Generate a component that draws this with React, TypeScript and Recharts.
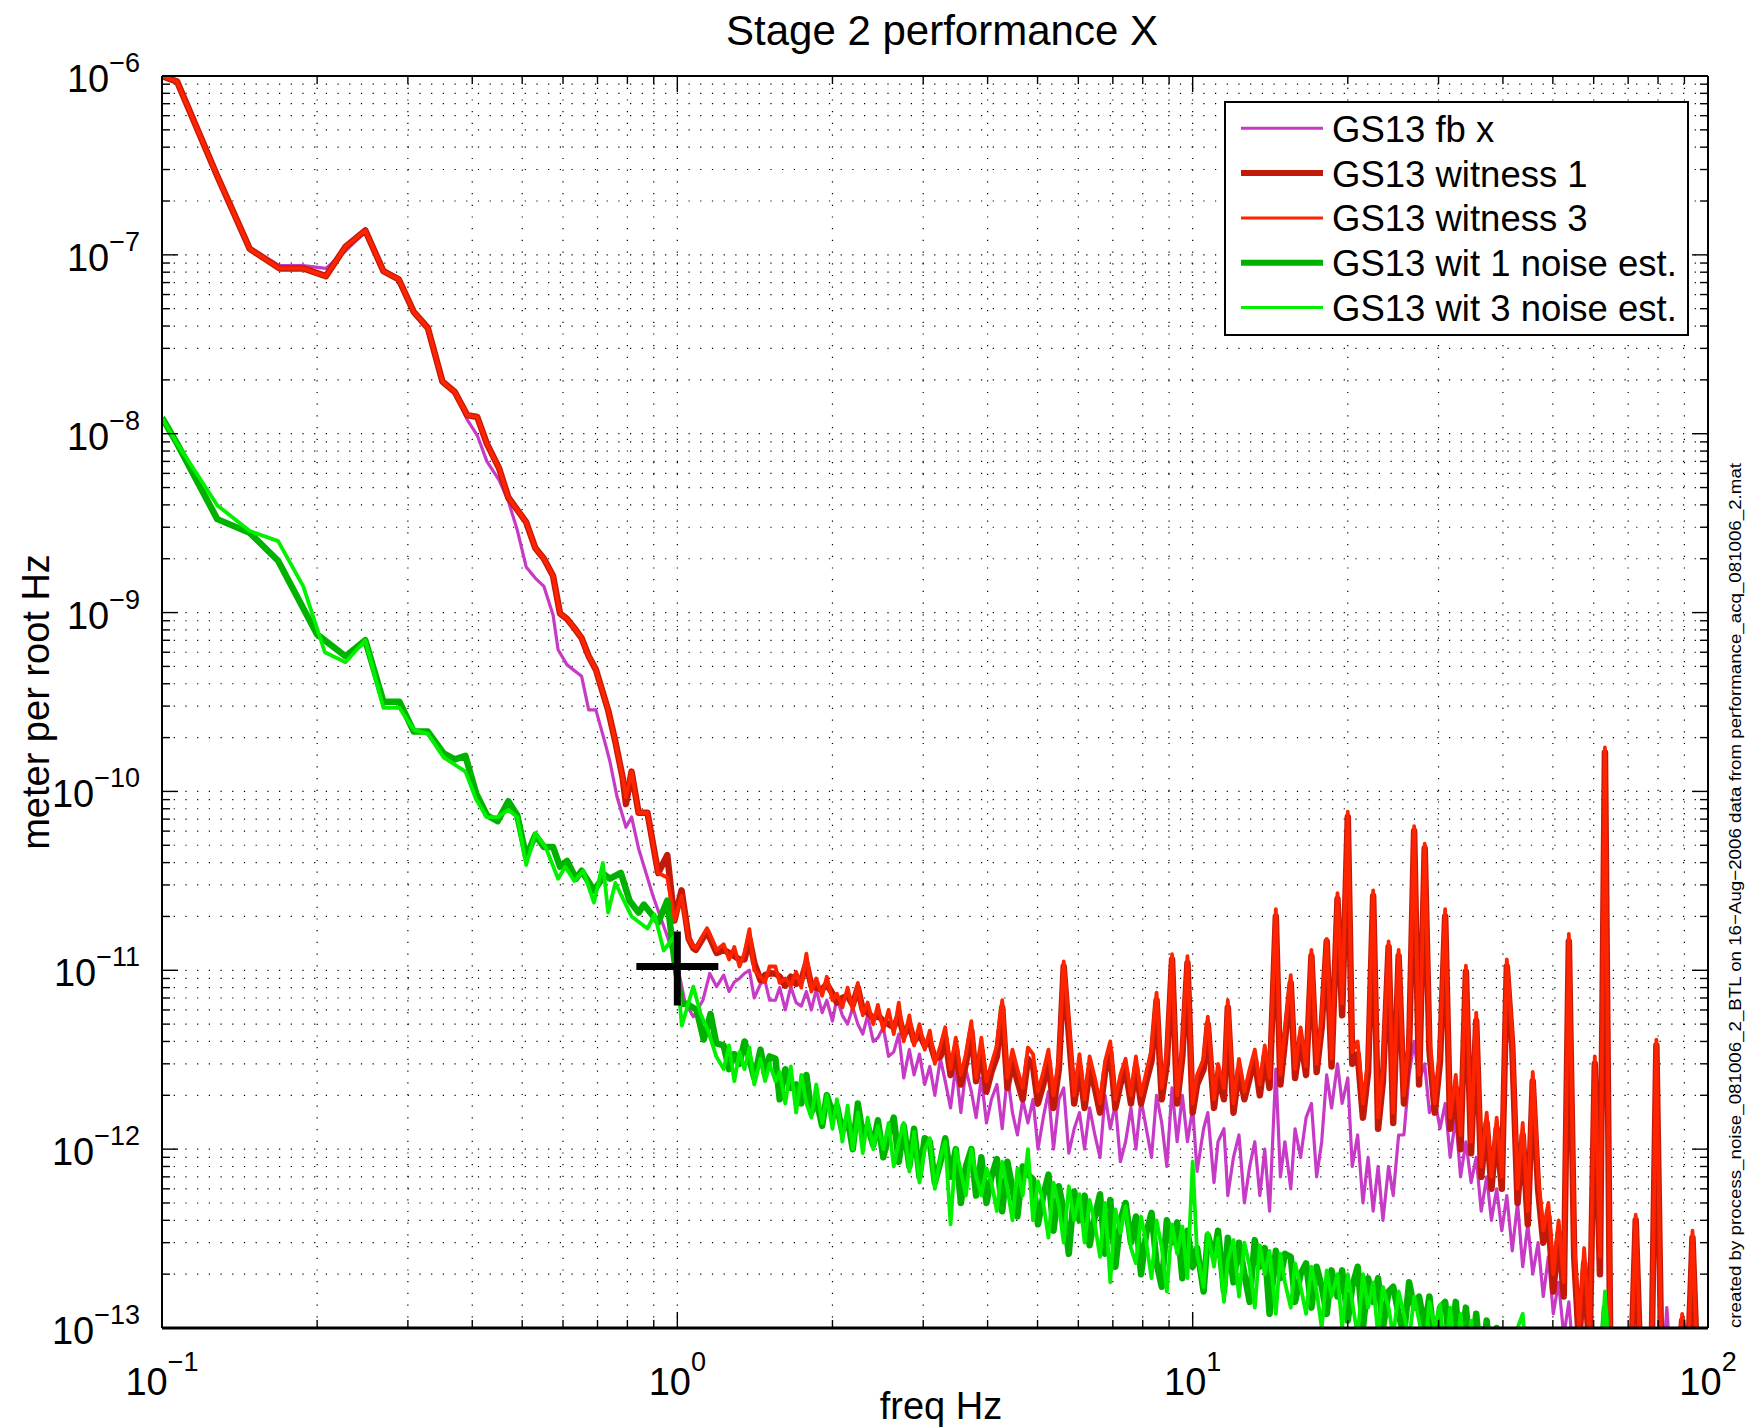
import React from 'react';
import {
  ComposedChart,
  Line,
  XAxis,
  YAxis,
  CartesianGrid,
  ReferenceDot,
} from 'recharts';

type Pair = [number, number];

// ---- spectra below 1.2 Hz: [frequency Hz, amplitude m/rtHz] ----
const FB_X_LOW: Pair[] = [
  [0.1, 1.0e-6], [0.107, 9.5e-7], [0.128, 2.8e-7], [0.148, 1.1e-7], [0.169, 8.7e-8],
  [0.188, 8.7e-8], [0.208, 8.4e-8], [0.227, 1.05e-7], [0.248, 1.35e-7], [0.269, 8.1e-8],
  [0.288, 7.3e-8], [0.308, 4.9e-8], [0.328, 3.9e-8], [0.35, 1.96e-8], [0.37, 1.71e-8],
  [0.391, 1.2e-8], [0.409, 9.8e-9], [0.427, 7.0e-9], [0.451, 5.5e-9], [0.47, 4.2e-9],
  [0.489, 2.9e-9], [0.509, 1.8e-9], [0.53, 1.56e-9], [0.551, 1.4e-9], [0.574, 9.7e-10],
  [0.587, 6.2e-10], [0.611, 5.1e-10], [0.652, 4.4e-10], [0.673, 2.86e-10], [0.695, 2.86e-10],
  [0.723, 1.9e-10], [0.74, 1.47e-10], [0.764, 9.3e-11], [0.795, 6.3e-11], [0.815, 7.2e-11],
  [0.841, 4.8e-11], [0.897, 2.6e-11], [0.956, 1.55e-11], [1.003, 1.03e-11], [1.035, 6.6e-12],
  [1.074, 5.5e-12], [1.121, 6.8e-12], [1.156, 9.6e-12], [1.192, 8.1e-12],
];

const WIT1_LOW: Pair[] = [
  [0.1, 1.0e-6], [0.107, 9.3e-7], [0.128, 2.76e-7], [0.148, 1.08e-7], [0.169, 8.4e-8],
  [0.188, 8.4e-8], [0.208, 7.6e-8], [0.227, 1.11e-7], [0.248, 1.37e-7], [0.269, 8.1e-8],
  [0.288, 7.3e-8], [0.308, 4.8e-8], [0.328, 3.9e-8], [0.35, 1.96e-8], [0.37, 1.71e-8],
  [0.391, 1.27e-8], [0.409, 1.24e-8], [0.427, 8.8e-9], [0.451, 6.4e-9], [0.47, 4.4e-9],
  [0.509, 3.2e-9], [0.53, 2.3e-9], [0.551, 2.0e-9], [0.574, 1.6e-9], [0.592, 9.9e-10],
  [0.611, 9.2e-10], [0.631, 8.2e-10], [0.652, 7.2e-10], [0.673, 5.7e-10], [0.695, 4.8e-10],
  [0.734, 2.85e-10], [0.758, 1.9e-10], [0.783, 1.2e-10], [0.795, 8.5e-11], [0.815, 1.29e-10],
  [0.841, 7.6e-11], [0.875, 7.6e-11], [0.918, 3.5e-11], [0.956, 4.4e-11], [0.987, 1.9e-11],
  [1.019, 2.8e-11], [1.052, 1.5e-11], [1.074, 1.33e-11], [1.086, 1.3e-11], [1.142, 1.65e-11],
  [1.192, 1.25e-11],
];

const WIT3_LOW: Pair[] = [
  [0.1, 1.0e-6], [0.107, 9.3e-7], [0.128, 2.76e-7], [0.148, 1.08e-7], [0.169, 8.4e-8],
  [0.188, 8.4e-8], [0.208, 7.6e-8], [0.227, 1.11e-7], [0.248, 1.37e-7], [0.269, 8.1e-8],
  [0.288, 7.3e-8], [0.308, 4.8e-8], [0.328, 3.9e-8], [0.35, 1.96e-8], [0.37, 1.71e-8],
  [0.391, 1.27e-8], [0.409, 1.24e-8], [0.427, 8.8e-9], [0.451, 6.4e-9], [0.47, 4.4e-9],
  [0.509, 3.2e-9], [0.53, 2.3e-9], [0.551, 2.0e-9], [0.574, 1.6e-9], [0.592, 9.9e-10],
  [0.611, 9.2e-10], [0.631, 8.2e-10], [0.652, 7.2e-10], [0.673, 5.7e-10], [0.695, 4.8e-10],
  [0.734, 2.85e-10], [0.758, 1.9e-10], [0.783, 1.2e-10], [0.795, 9.3e-11], [0.815, 1.29e-10],
  [0.841, 7.6e-11], [0.875, 7.6e-11], [0.918, 3.5e-11], [0.956, 3.3e-11], [0.987, 1.9e-11],
  [1.019, 2.6e-11], [1.052, 1.5e-11], [1.074, 1.36e-11], [1.086, 1.33e-11], [1.142, 1.72e-11],
  [1.192, 1.3e-11],
];

const NOISE1_LOW: Pair[] = [
  [0.1, 1.23e-8], [0.107, 8.8e-9], [0.128, 3.33e-9], [0.148, 2.79e-9], [0.168, 1.95e-9],
  [0.2, 7.55e-10], [0.227, 5.7e-10], [0.248, 7.0e-10], [0.269, 3.17e-10], [0.289, 3.17e-10],
  [0.308, 2.16e-10], [0.328, 2.16e-10], [0.352, 1.63e-10], [0.37, 1.51e-10], [0.388, 1.58e-10],
  [0.407, 9.75e-11], [0.427, 7.36e-11], [0.448, 6.82e-11], [0.47, 8.81e-11], [0.489, 7.36e-11],
  [0.509, 4.3e-11], [0.53, 5.71e-11], [0.551, 4.89e-11], [0.574, 4.89e-11], [0.592, 3.79e-11],
  [0.611, 4.09e-11], [0.636, 3.25e-11], [0.652, 3.6e-11], [0.689, 2.79e-11], [0.723, 3.42e-11],
  [0.74, 3.25e-11], [0.777, 3.5e-11], [0.808, 2.45e-11], [0.841, 2.1e-11], [0.861, 2.33e-11],
  [0.918, 1.85e-11], [0.956, 2.45e-11], [0.987, 1.14e-11], [1.019, 6.5e-12], [1.043, 6.5e-12],
  [1.09, 6.0e-12], [1.125, 4.1e-12], [1.16, 5.7e-12], [1.19, 3.9e-12],
];

const NOISE3_LOW: Pair[] = [
  [0.1, 1.23e-8], [0.107, 8.8e-9], [0.128, 3.98e-9], [0.148, 2.86e-9], [0.168, 2.51e-9],
  [0.188, 1.4e-9], [0.207, 6.0e-10], [0.227, 5.28e-10], [0.248, 7.0e-10], [0.269, 2.93e-10],
  [0.289, 2.93e-10], [0.308, 2.21e-10], [0.328, 2.1e-10], [0.352, 1.55e-10], [0.388, 1.29e-10],
  [0.407, 9.0e-11], [0.427, 7.18e-11], [0.448, 7.18e-11], [0.47, 7.9e-11], [0.489, 7.18e-11],
  [0.509, 3.88e-11], [0.53, 5.85e-11], [0.555, 4.89e-11], [0.587, 3.25e-11], [0.606, 3.79e-11],
  [0.631, 3.16e-11], [0.657, 3.6e-11], [0.689, 2.39e-11], [0.717, 3.98e-11], [0.734, 2.1e-11],
  [0.758, 3.08e-11], [0.815, 2.0e-11], [0.875, 1.71e-11], [0.903, 2.05e-11], [0.941, 1.29e-11],
  [0.987, 1.55e-11], [1.02, 4.9e-12], [1.074, 8.1e-12], [1.11, 5.7e-12], [1.15, 4.5e-12],
  [1.19, 3.3e-12],
];

// ---- shared frequency bins from 1.23 Hz to 100 Hz ----
const HI_FREQ = [
  1.23, 1.26, 1.29, 1.32, 1.35, 1.38, 1.41, 1.45, 1.48, 1.51,
  1.55, 1.58, 1.62, 1.66, 1.70, 1.74, 1.78, 1.82, 1.86, 1.91,
  1.95, 2.00, 2.04, 2.09, 2.14, 2.19, 2.24, 2.29, 2.34, 2.40,
  2.45, 2.51, 2.57, 2.63, 2.69, 2.75, 2.82, 2.88, 2.95, 3.02,
  3.09, 3.16, 3.24, 3.31, 3.39, 3.47, 3.55, 3.63, 3.72, 3.80,
  3.89, 3.98, 4.07, 4.17, 4.27, 4.37, 4.47, 4.57, 4.68, 4.79,
  4.90, 5.01, 5.13, 5.25, 5.37, 5.50, 5.62, 5.75, 5.89, 6.03,
  6.17, 6.31, 6.46, 6.61, 6.76, 6.92, 7.08, 7.24, 7.41, 7.59,
  7.76, 7.94, 8.13, 8.32, 8.51, 8.71, 8.91, 9.12, 9.33, 9.55,
  9.77, 10.0, 10.2, 10.5, 10.7, 11.0, 11.2, 11.5, 11.7, 12.0,
  12.3, 12.6, 12.9, 13.2, 13.5, 13.8, 14.1, 14.5, 14.8, 15.1,
  15.5, 15.8, 16.2, 16.6, 17.0, 17.4, 17.8, 18.2, 18.6, 19.1,
  19.5, 20.0, 20.4, 20.9, 21.4, 21.9, 22.4, 22.9, 23.4, 24.0,
  24.5, 25.1, 25.7, 26.3, 26.9, 27.5, 28.2, 28.8, 29.5, 30.2,
  30.9, 31.6, 32.4, 33.1, 33.9, 34.7, 35.5, 36.3, 37.2, 38.0,
  38.9, 39.8, 40.7, 41.7, 42.7, 43.7, 44.7, 45.7, 46.8, 47.9,
  49.0, 50.1, 51.3, 52.5, 53.7, 55.0, 56.2, 57.5, 58.9, 60.3,
  61.7, 63.1, 64.6, 66.1, 67.6, 69.2, 70.8, 72.4, 74.1, 75.9,
  77.6, 79.4, 81.3, 83.2, 85.1, 87.1, 89.1, 91.2, 93.3, 95.5,
  97.7, 100,
];

// amplitudes on HI_FREQ, in pm/rtHz (0.05 sits below the plotted range)
const FB_X_HI = [
  9.4, 7.6, 8.6, 9.0, 9.6, 10, 7.0, 8.4, 8.7, 6.8,
  6.8, 8.0, 6.0, 8.1, 6.6, 6.3, 7.6, 6.0, 7.8, 5.8,
  6.8, 5.2, 7.0, 5.6, 5.0, 6.2, 5.0, 4.4, 5.6, 4.0,
  4.2, 4.8, 3.3, 3.5, 4.4, 2.5, 3.6, 2.6, 3.4, 2.3,
  2.9, 2.0, 3.2, 2.4, 1.7, 2.9, 1.6, 2.8, 2.1, 1.5,
  2.5, 1.4, 1.9, 2.3, 1.3, 2.6, 1.6, 1.2, 1.9, 1.4,
  1.9, 1.0, 1.5, 2.1, 1.0, 1.9, 2.2, 0.95, 1.3, 1.6,
  1.0, 1.7, 1.2, 0.9, 2.0, 1.3, 1.8, 0.85, 1.1, 1.7,
  1.0, 1.9, 1.3, 0.9, 2.0, 1.4, 0.8, 2.2, 1.1, 2.0,
  1.1, 1.7, 0.75, 1.3, 1.6, 0.65, 1.1, 1.3, 0.55, 0.9,
  1.2, 0.5, 0.8, 1.1, 0.55, 1.0, 0.45, 2.8, 0.7, 1.1,
  0.6, 1.3, 0.9, 1.5, 1.8, 0.7, 1.1, 2.6, 1.7, 3.0,
  1.8, 2.5, 0.8, 1.2, 0.5, 0.9, 0.45, 0.8, 0.4, 0.8,
  0.55, 1.2, 1.2, 2.6, 4.0, 2.4, 3.0, 1.6, 1.9, 1.3,
  1.8, 0.9, 1.5, 0.7, 1.1, 0.65, 0.9, 0.45, 0.7, 0.4,
  0.6, 0.35, 0.55, 0.27, 0.5, 0.22, 0.38, 0.2, 0.3, 0.15,
  0.25, 0.12, 0.18, 0.09, 0.14, 0.06, 0.05, 0.05, 0.05, 0.05,
  0.05, 0.05, 0.05, 0.05, 0.05, 0.05, 0.05, 0.05, 0.05, 0.05,
  0.05, 0.05, 0.05, 0.13, 0.05, 0.05, 0.11, 0.05, 0.05, 0.05,
  0.05, 0.05,
];

const WIT1_HI = [
  13, 12.5, 12, 11.5, 11.5, 15, 11, 8.8, 9.4, 9.6,
  9.6, 9.2, 8.2, 9.2, 8.4, 8.8, 11, 8.2, 8.0, 7.8,
  8.4, 7.4, 6.6, 7.0, 7.2, 6.4, 8.0, 6.0, 5.8, 5.4,
  5.6, 5.2, 5.0, 4.8, 5.6, 4.3, 5.0, 4.0, 4.4, 3.8,
  4.0, 3.2, 3.3, 4.2, 2.6, 3.7, 2.3, 3.0, 4.6, 2.4,
  3.6, 2.1, 2.7, 3.3, 6.2, 2.2, 3.1, 2.4, 1.9, 3.2,
  2.9, 1.8, 2.3, 3.1, 1.7, 2.8, 10.5, 4.4, 1.8, 2.9,
  1.7, 2.8, 2.2, 1.6, 2.7, 3.5, 1.7, 2.3, 2.8, 1.8,
  2.9, 1.8, 2.4, 3.1, 6.8, 1.9, 3.0, 11.5, 1.8, 3.3,
  11, 1.6, 2.3, 2.8, 5.0, 1.7, 2.6, 1.9, 6.2, 1.6,
  2.8, 1.9, 2.5, 3.2, 2.0, 3.3, 2.2, 20, 2.3, 4.0,
  8.5, 2.5, 4.2, 2.6, 12, 2.7, 4.8, 14.5, 2.9, 25,
  5.6, 72, 3.0, 3.4, 1.5, 2.7, 26, 1.3, 2.4, 13.5,
  1.4, 12, 1.8, 3.6, 60, 2.3, 48, 3.6, 1.6, 3.1,
  20, 1.3, 2.2, 1.0, 9.8, 0.95, 5.2, 0.7, 1.4, 0.6,
  1.3, 0.6, 10.5, 3.8, 0.5, 1.2, 0.38, 2.4, 0.6, 0.3,
  0.42, 0.16, 0.34, 0.15, 14.5, 0.25, 0.08, 0.23, 0.07, 3.0,
  0.2, 165, 0.08, 0.06, 0.05, 0.05, 0.05, 0.4, 0.05, 0.05,
  0.05, 3.8, 0.05, 0.05, 0.05, 0.05, 0.11, 0.05, 0.32, 0.05,
  0.05, 0.05,
];

const WIT3_HI = [
  14, 11.5, 13.5, 10.5, 12.5, 17, 10, 9.2, 8.6, 10.5,
  10.5, 8.5, 9.0, 8.2, 9.8, 8.0, 12.4, 7.6, 9.0, 7.2,
  9.2, 6.8, 7.4, 6.2, 8.0, 6.0, 8.5, 5.6, 6.6, 5.0,
  6.4, 4.6, 6.0, 4.4, 6.6, 4.0, 5.6, 3.8, 5.0, 3.6,
  4.6, 3.0, 3.8, 4.8, 2.8, 4.2, 2.6, 3.4, 5.2, 2.5,
  4.2, 2.4, 3.0, 3.8, 6.8, 2.5, 3.6, 2.8, 2.2, 3.7,
  3.4, 2.1, 2.7, 3.6, 2.0, 3.2, 11.2, 5.0, 2.0, 3.4,
  1.9, 3.3, 2.5, 1.8, 3.1, 4.0, 1.9, 2.6, 3.2, 2.0,
  3.3, 2.0, 2.7, 3.6, 7.5, 2.2, 3.5, 12.3, 2.0, 3.8,
  12, 1.8, 2.6, 3.2, 5.5, 1.9, 3.0, 2.2, 6.8, 1.8,
  3.2, 2.1, 2.8, 3.6, 2.3, 3.8, 2.5, 22, 2.6, 4.6,
  9.4, 2.8, 4.8, 2.9, 13, 3.0, 5.5, 15, 3.2, 27,
  6.5, 77, 3.5, 4.0, 1.8, 3.2, 28, 1.5, 2.8, 14.5,
  1.6, 13, 2.0, 4.2, 64, 2.6, 51, 4.2, 1.8, 3.6,
  22, 1.5, 2.6, 1.2, 10.6, 1.1, 5.8, 0.8, 1.6, 0.7,
  1.5, 0.7, 11.5, 4.2, 0.6, 1.4, 0.45, 2.7, 0.7, 0.35,
  0.5, 0.2, 0.4, 0.18, 16, 0.3, 0.1, 0.28, 0.09, 3.3,
  0.25, 176, 0.1, 0.07, 0.05, 0.05, 0.05, 0.43, 0.05, 0.05,
  0.05, 4.1, 0.05, 0.05, 0.05, 0.05, 0.12, 0.05, 0.35, 0.05,
  0.05, 0.05,
];

const NOISE1_HI = [
  3.8, 2.8, 3.4, 3.0, 4.0, 3.2, 2.5, 3.6, 2.6, 3.3,
  3.2, 1.9, 2.8, 2.2, 2.3, 1.8, 2.6, 1.6, 1.9, 1.35,
  2.0, 1.6, 1.75, 1.25, 1.5, 1.0, 1.8, 1.2, 1.35, 1.05,
  1.45, 0.9, 1.2, 1.5, 0.85, 1.35, 0.8, 1.3, 0.7, 1.15,
  1.1, 0.65, 0.85, 1.15, 0.7, 1.0, 0.5, 0.8, 1.0, 0.55,
  0.9, 0.5, 0.7, 0.88, 0.45, 0.85, 0.6, 0.42, 0.8, 0.72,
  0.68, 0.38, 0.55, 0.72, 0.35, 0.62, 0.45, 0.26, 0.58, 0.4,
  0.55, 0.29, 0.42, 0.56, 0.26, 0.52, 0.22, 0.4, 0.5, 0.3,
  0.42, 0.2, 0.34, 0.44, 0.23, 0.17, 0.4, 0.3, 0.39, 0.19,
  0.35, 0.22, 0.28, 0.16, 0.33, 0.25, 0.35, 0.16, 0.32, 0.18,
  0.3, 0.2, 0.14, 0.31, 0.22, 0.28, 0.12, 0.27, 0.19, 0.26,
  0.25, 0.14, 0.2, 0.23, 0.13, 0.22, 0.17, 0.12, 0.21, 0.15,
  0.21, 0.11, 0.17, 0.22, 0.1, 0.19, 0.14, 0.19, 0.1, 0.16,
  0.17, 0.12, 0.09, 0.18, 0.13, 0.15, 0.1, 0.15, 0.08, 0.13,
  0.14, 0.075, 0.14, 0.07, 0.13, 0.065, 0.12, 0.06, 0.11, 0.06,
  0.1, 0.06, 0.09, 0.055, 0.085, 0.05, 0.08, 0.05, 0.06, 0.05,
  0.05, 0.05, 0.05, 0.05, 0.05, 0.05, 0.05, 0.05, 0.05, 0.05,
  0.05, 0.13, 0.05, 0.05, 0.05, 0.05, 0.05, 0.05, 0.05, 0.05,
  0.05, 0.05, 0.05, 0.05, 0.05, 0.05, 0.05, 0.05, 0.05, 0.05,
  0.05, 0.05,
];

const NOISE3_HI = [
  2.8, 3.8, 2.4, 3.5, 2.8, 3.7, 2.3, 3.2, 2.4, 3.0,
  2.4, 2.7, 1.8, 2.9, 1.6, 2.6, 1.8, 1.5, 2.3, 1.4,
  2.0, 1.3, 1.9, 1.1, 1.75, 1.0, 1.6, 0.95, 1.5, 1.0,
  1.35, 1.0, 1.4, 0.8, 1.1, 1.4, 0.75, 1.25, 0.65, 1.0,
  1.15, 0.6, 0.9, 1.1, 0.38, 1.0, 0.75, 0.55, 1.0, 0.7,
  0.55, 0.78, 0.65, 0.45, 0.85, 0.6, 0.4, 0.78, 0.55, 1.0,
  0.4, 0.66, 0.5, 0.32, 0.65, 0.48, 0.3, 0.62, 0.4, 0.56,
  0.3, 0.52, 0.38, 0.25, 0.5, 0.18, 0.46, 0.34, 0.48, 0.28,
  0.23, 0.42, 0.3, 0.19, 0.4, 0.28, 0.16, 0.38, 0.26, 0.37,
  0.19, 0.85, 0.26, 0.17, 0.34, 0.22, 0.32, 0.14, 0.24, 0.31,
  0.15, 0.3, 0.22, 0.13, 0.29, 0.2, 0.27, 0.12, 0.26, 0.18,
  0.13, 0.23, 0.17, 0.12, 0.22, 0.16, 0.1, 0.21, 0.15, 0.2,
  0.1, 0.2, 0.14, 0.09, 0.2, 0.13, 0.18, 0.09, 0.17, 0.13,
  0.09, 0.16, 0.12, 0.085, 0.15, 0.11, 0.075, 0.14, 0.1, 0.135,
  0.07, 0.13, 0.065, 0.12, 0.06, 0.11, 0.06, 0.1, 0.055, 0.095,
  0.055, 0.09, 0.05, 0.085, 0.1, 0.12, 0.05, 0.065, 0.05, 0.05,
  0.05, 0.05, 0.05, 0.05, 0.05, 0.05, 0.05, 0.05, 0.05, 0.05,
  0.05, 0.16, 0.05, 0.05, 0.05, 0.05, 0.05, 0.05, 0.05, 0.05,
  0.05, 0.05, 0.05, 0.05, 0.05, 0.05, 0.05, 0.05, 0.05, 0.05,
  0.05, 0.05,
];

// operating-point marker
const CROSS_AT = { f: 1.0, v: 1.05e-11 };

const X_DECADES = [0.1, 1, 10, 100];
const Y_DECADES = [1e-13, 1e-12, 1e-11, 1e-10, 1e-9, 1e-8, 1e-7, 1e-6];
const MINOR_STEPS = [1, 2, 3, 4, 5, 6, 7, 8, 9];

const TITLE = 'Stage 2 performance X';
const X_LABEL = 'freq Hz';
const Y_LABEL = 'meter per root Hz';
const SIDE_NOTE =
  'created by process_noise_081006_2_BTL on 16\u2212Aug\u22122006 data from performance_acq_081006_2.mat';

const PM = 1e-12;
const FONT = '"Liberation Sans", Arial, Helvetica, sans-serif';

const buildRows = (low: Pair[], hi: number[]) => [
  ...low.map(([f, v]) => ({ f, v })),
  ...HI_FREQ.map((f, i) => ({ f, v: hi[i] * PM })),
];

const SERIES = [
  { key: 'fb', name: 'GS13 fb x', color: '#c63ac6', width: 3.2, legendWidth: 3, rows: buildRows(FB_X_LOW, FB_X_HI) },
  { key: 'w1', name: 'GS13 witness 1', color: '#c21a0a', width: 6.5, legendWidth: 6, rows: buildRows(WIT1_LOW, WIT1_HI) },
  { key: 'w3', name: 'GS13 witness 3', color: '#ff2400', width: 3.8, legendWidth: 3, rows: buildRows(WIT3_LOW, WIT3_HI) },
  { key: 'n1', name: 'GS13 wit 1 noise est.', color: '#00b200', width: 6.5, legendWidth: 6, rows: buildRows(NOISE1_LOW, NOISE1_HI) },
  { key: 'n3', name: 'GS13 wit 3 noise est.', color: '#00f000', width: 3.8, legendWidth: 3, rows: buildRows(NOISE3_LOW, NOISE3_HI) },
];

const logTicks = (decades: number[]) =>
  decades
    .slice(0, -1)
    .flatMap((d) => MINOR_STEPS.map((m) => Number((d * m).toPrecision(3))))
    .concat(decades[decades.length - 1]);

const X_TICKS = logTicks(X_DECADES);
const Y_TICKS = logTicks(Y_DECADES);

const exponentOf = (v: number) => Math.round(Math.log10(v));
const isDecade = (v: number) => Math.abs(Math.log10(v) - exponentOf(v)) < 1e-6;
const expText = (n: number) => (n < 0 ? '\u2212' + Math.abs(n) : String(n));

const MAJOR_LEN = 16;
const MINOR_LEN = 8;

function BottomTick({ x, y, payload }: any) {
  const v = payload.value;
  const major = isDecade(v);
  return (
    <g>
      <line x1={x} x2={x} y1={y} y2={y - (major ? MAJOR_LEN : MINOR_LEN)} stroke="#000" strokeWidth={1.4} />
      {major && (
        <text x={x} y={y + 67} textAnchor="middle" fontFamily={FONT} fontSize={38} fill="#000">
          10
          <tspan dy={-24} fontSize={27}>{expText(exponentOf(v))}</tspan>
        </text>
      )}
    </g>
  );
}

function TopTick({ x, y, payload }: any) {
  const len = isDecade(payload.value) ? MAJOR_LEN : MINOR_LEN;
  return <line x1={x} x2={x} y1={y} y2={y + len} stroke="#000" strokeWidth={1.4} />;
}

function LeftTick({ x, y, payload }: any) {
  const v = payload.value;
  const major = isDecade(v);
  return (
    <g>
      <line x1={x} x2={x + (major ? MAJOR_LEN : MINOR_LEN)} y1={y} y2={y} stroke="#000" strokeWidth={1.4} />
      {major && (
        <text x={x - 22} y={y + 16} textAnchor="end" fontFamily={FONT} fontSize={38} fill="#000">
          10
          <tspan dy={-20} fontSize={27}>{expText(exponentOf(v))}</tspan>
        </text>
      )}
    </g>
  );
}

function RightTick({ x, y, payload }: any) {
  const len = isDecade(payload.value) ? MAJOR_LEN : MINOR_LEN;
  return <line x1={x} x2={x - len} y1={y} y2={y} stroke="#000" strokeWidth={1.4} />;
}

function CrossMark({ cx, cy }: any) {
  if (cx == null || cy == null) return null;
  return (
    <g>
      <line x1={cx - 41} x2={cx + 41} y1={cy} y2={cy} stroke="#000" strokeWidth={7} />
      <line x1={cx} x2={cx} y1={cy - 35} y2={cy + 39} stroke="#000" strokeWidth={7} />
    </g>
  );
}

function Overlay() {
  const box = { x: 1225, y: 102, w: 463, h: 233 };
  return (
    <svg
      width={1750}
      height={1428}
      style={{ position: 'absolute', left: 0, top: 0, pointerEvents: 'none' }}
    >
      <text x={942} y={45} textAnchor="middle" fontFamily={FONT} fontSize={42} fill="#000">
        {TITLE}
      </text>
      <text x={941} y={1419} textAnchor="middle" fontFamily={FONT} fontSize={38} fill="#000">
        {X_LABEL}
      </text>
      <text
        x={0}
        y={0}
        transform="translate(49,702) rotate(-90)"
        textAnchor="middle"
        fontFamily={FONT}
        fontSize={38}
        fill="#000"
      >
        {Y_LABEL}
      </text>
      <text
        x={0}
        y={0}
        transform="translate(1741,1328) rotate(-90)"
        textAnchor="start"
        fontFamily={FONT}
        fontSize={17}
        textLength={865}
        lengthAdjust="spacingAndGlyphs"
        fill="#000"
      >
        {SIDE_NOTE}
      </text>

      <rect x={box.x} y={box.y} width={box.w} height={box.h} fill="#fff" stroke="#000" strokeWidth={2} />
      {SERIES.map((s, i) => {
        const cy = 128.3 + i * 44.8;
        return (
          <g key={s.key}>
            <line x1={1241} x2={1323} y1={cy} y2={cy} stroke={s.color} strokeWidth={s.legendWidth} />
            <text x={1332} y={cy + 13.5} fontFamily={FONT} fontSize={36.5} fill="#000">
              {s.name}
            </text>
          </g>
        );
      })}
    </svg>
  );
}

export default function App() {
  return (
    <div style={{ position: 'absolute', left: 0, top: 0, width: 1750, height: 1428, background: '#fff' }}>
      <ComposedChart width={1750} height={1428} margin={{ top: 75, right: 41, bottom: 0, left: 0 }}>
        <CartesianGrid stroke="#000" strokeWidth={1.2} strokeDasharray="1.2 10.5" />
        <XAxis
          dataKey="f"
          type="number"
          scale="log"
          domain={[0.1, 100]}
          allowDataOverflow
          ticks={X_TICKS}
          interval={0}
          height={100}
          tickSize={0}
          tickMargin={0}
          tickLine={false}
          axisLine={{ stroke: '#000', strokeWidth: 3 }}
          tick={<BottomTick />}
        />
        <XAxis
          xAxisId="top"
          orientation="top"
          dataKey="f"
          type="number"
          scale="log"
          domain={[0.1, 100]}
          allowDataOverflow
          ticks={X_TICKS}
          interval={0}
          height={1}
          tickSize={0}
          tickMargin={0}
          tickLine={false}
          axisLine={{ stroke: '#000', strokeWidth: 2 }}
          tick={<TopTick />}
        />
        <YAxis
          type="number"
          scale="log"
          domain={[1e-13, 1e-6]}
          allowDataOverflow
          ticks={Y_TICKS}
          interval={0}
          width={162}
          tickSize={0}
          tickMargin={0}
          tickLine={false}
          axisLine={{ stroke: '#000', strokeWidth: 2 }}
          tick={<LeftTick />}
        />
        <YAxis
          yAxisId="right"
          orientation="right"
          type="number"
          scale="log"
          domain={[1e-13, 1e-6]}
          allowDataOverflow
          ticks={Y_TICKS}
          interval={0}
          width={1}
          tickSize={0}
          tickMargin={0}
          tickLine={false}
          axisLine={{ stroke: '#000', strokeWidth: 2 }}
          tick={<RightTick />}
        />
        {SERIES.map((s) => (
          <Line
            key={s.key}
            data={s.rows}
            dataKey="v"
            name={s.name}
            type="linear"
            stroke={s.color}
            strokeWidth={s.width}
            strokeLinejoin="round"
            dot={false}
            activeDot={false}
            isAnimationActive={false}
          />
        ))}
        <ReferenceDot x={CROSS_AT.f} y={CROSS_AT.v} r={0} ifOverflow="visible" shape={<CrossMark />} />
      </ComposedChart>
      <Overlay />
    </div>
  );
}
